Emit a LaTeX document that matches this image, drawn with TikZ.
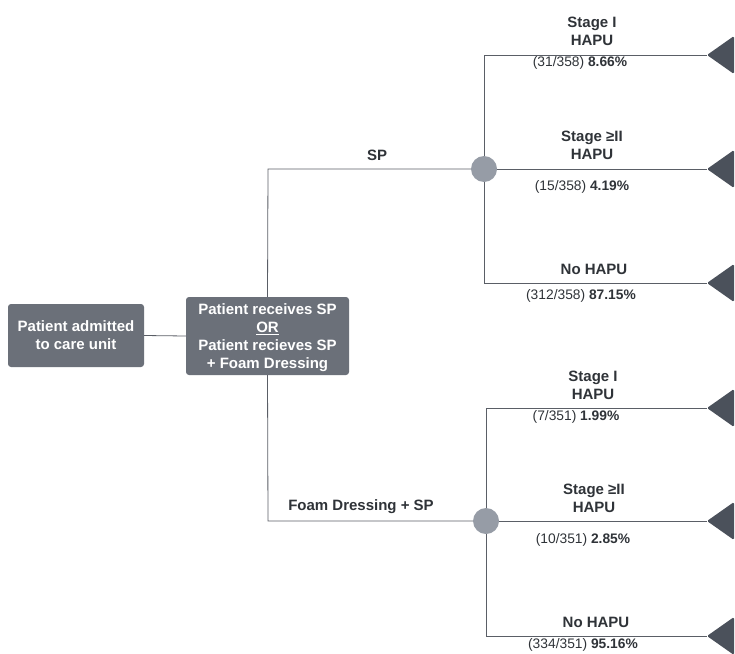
\documentclass[tikz,border=0pt]{standalone}
\usepackage{fontspec}
\setmainfont{Liberation Sans}
\definecolor{boxgray}{HTML}{6B7079}
\definecolor{tipgray}{HTML}{4B515B}
\definecolor{dotgray}{HTML}{969CA6}
\definecolor{linegray}{HTML}{5A5E66}
\definecolor{txtgray}{HTML}{2F3338}
\tikzset{
  stepbox/.style={fill=boxgray, rounded corners=3pt, text=white, font=\bfseries\fontsize{15}{18}\selectfont, align=center, inner sep=0pt},
  chance/.style={circle, fill=dotgray, minimum size=26pt, inner sep=0pt},
  branch/.style={draw=linegray, line width=0.8pt},
  lbl/.style={text=txtgray, font=\bfseries\fontsize{15}{18}\selectfont, align=center, inner sep=0pt},
  prob/.style={text=txtgray, font=\fontsize{13.8}{16}\selectfont, inner sep=0pt},
  leaftip/.style={fill=tipgray, rounded corners=1.5pt}
}
\newcommand{\leafmark}[2]{%
  \coordinate (#1) at (707,#2);
  \fill[leaftip] (707,#2) -- (734,#2-19) -- (734,#2+19) -- cycle;}
\begin{document}
\begin{tikzpicture}[x=1pt,y=-1pt]
\useasboundingbox (0,0) rectangle (735,653);
% boxes
\node[stepbox, minimum width=136pt, minimum height=63pt] (adm) at (76,335.5) {Patient admitted\\to care unit};
\node[stepbox, minimum width=163pt, minimum height=78pt, text depth=0pt] (arm) at (267.5,336) {Patient receives SP\\\underline{OR}\\ Patient recieves SP\\+ Foam Dressing};
\draw[branch] (adm.east) -- (arm.west);
% chance nodes
\node[chance] (c1) at (484,169) {};
\node[chance] (c2) at (486,521) {};
\draw[branch] (arm.north) -- (268,169) -- (c1.west);
\draw[branch] (arm.south) -- (268,521) -- (c2.west);
\node[lbl] (sp) at (377,155) {SP};
\node[lbl] (fd) at (361,507) {Foam Dressing + SP};
% end points
\leafmark{e1}{55}
\leafmark{e2}{169}
\leafmark{e3}{283}
\leafmark{e4}{408}
\leafmark{e5}{521}
\leafmark{e6}{636}
\draw[branch] (484,55) -- (e1);
\draw[branch] (c1.east) -- (e2);
\draw[branch] (484,283) -- (e3);
\draw[branch] (484,55) -- (c1.north);
\draw[branch] (c1.south) -- (484,283);
\draw[branch] (486,408) -- (e4);
\draw[branch] (c2.east) -- (e5);
\draw[branch] (486,636) -- (e6);
\draw[branch] (486,408) -- (c2.north);
\draw[branch] (c2.south) -- (486,636);
% outcome labels
\node[lbl] (l1) at (592,31) {Stage I\\HAPU};
\node[prob] (p1) at (580,63) {(31/358) \textbf{8.66\%}};
\node[lbl] (l2) at (592,145) {Stage ≥II\\HAPU};
\node[prob] (p2) at (582,187) {(15/358) \textbf{4.19\%}};
\node[lbl] (l3) at (594,269) {No HAPU};
\node[prob] (p3) at (581,296) {(312/358) \textbf{87.15\%}};
\node[lbl] (l4) at (593,385) {Stage I\\HAPU};
\node[prob] (p4) at (576,417) {(7/351) \textbf{1.99\%}};
\node[lbl] (l5) at (594,498) {Stage ≥II\\HAPU};
\node[prob] (p5) at (583,540) {(10/351) \textbf{2.85\%}};
\node[lbl] (l6) at (596,622) {No HAPU};
\node[prob] (p6) at (583,645) {(334/351) \textbf{95.16\%}};
\end{tikzpicture}
\end{document}
